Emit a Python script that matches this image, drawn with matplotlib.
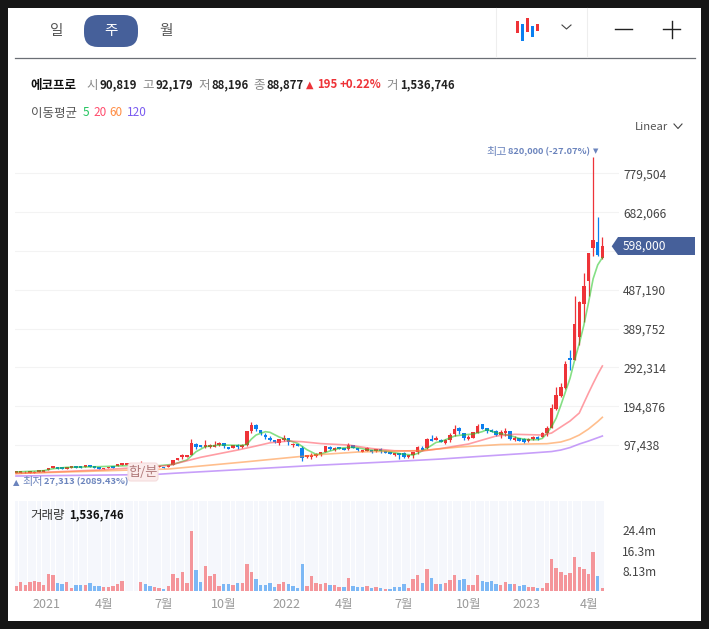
import matplotlib
matplotlib.use('Agg')
import matplotlib.pyplot as plt
from matplotlib.patches import Rectangle, FancyBboxPatch, Polygon
import numpy as np

plt.rcParams['font.family'] = ['Noto Sans CJK KR', 'DejaVu Sans']

#%%
# weekly candles, thousand won
opens = [28, 28, 28.5, 28, 28, 30.4, 30.4, 33.7, 38.8, 42.1,
         41.3, 37.9, 40.4, 43.8, 43.8, 43, 46.3, 43.8, 41.3, 37,
         39, 43.8, 44.6, 47.2, 48, 49, 49, 49, 50, 51,
         47, 41.3, 43, 43, 46.3, 59.7, 66.4, 67.2, 72.3, 100.8,
         97.4, 92.4, 92.4, 93.2, 97.4, 101.6, 93.3, 90.7, 97.4, 92.4,
         97.4, 132.6, 147.7, 135.1, 122.6, 115.9, 110, 102.5, 109.2, 114.2,
         96.6, 100.8, 90.7, 67.3, 68.1, 70.7, 74, 79.9, 92.4, 84.9,
         92.4, 90.7, 87.4, 97.4, 89.9, 79.9, 83.2, 84.9, 82.4, 87.4,
         82.4, 79.9, 72.3, 77.3, 77.3, 67.3, 72.3, 79.9, 90.7, 90.7,
         113.4, 110, 110.8, 102.5, 109.2, 125.1, 141, 127.6, 112.5, 115,
         127.6, 150.2, 140.1, 135.1, 133.4, 121.7, 127.6, 132.6, 110, 114.2,
         112.5, 107.5, 111.7, 117.5, 117.5, 127.6, 140, 187, 221, 240,
         315, 311, 370, 452, 509, 592, 607, 566]
highs = [31, 31, 31, 31, 31, 33.7, 33.7, 38.8, 43.8, 43,
         41.3, 41.3, 43.8, 43.8, 43.8, 46.3, 46.3, 43.8, 41.3, 38.8,
         43, 43.8, 48.8, 51.3, 51.3, 52, 52, 58, 52, 51,
         49, 44.6, 43, 46.3, 59.7, 65.6, 73.9, 72.3, 112.5, 102.5,
         97.4, 110.8, 100.8, 107.5, 104, 101.6, 93.3, 96.6, 99.9, 99.1,
         132.6, 154.4, 149.4, 135.1, 126.7, 119.2, 110, 112.5, 122.6, 115.9,
         102.5, 100.8, 94.9, 71.5, 76.5, 77.3, 79.9, 94.9, 94.9, 92.4,
         92.4, 90.7, 103.3, 97.4, 89.9, 84.9, 92.4, 84.9, 87.4, 89.1,
         82.4, 79.9, 77.3, 77.3, 80.7, 72.3, 79.9, 94.9, 94.1, 115.9,
         122.9, 120, 113.4, 112.5, 126.7, 148.5, 143.5, 127.6, 121.7, 129.3,
         151, 150.2, 140.1, 137.6, 136, 134.3, 139.3, 132.6, 119.2, 114.2,
         115.9, 115, 120, 120.9, 129.3, 144.3, 200, 242, 252, 309,
         336, 472, 458, 530, 579, 820, 670, 620]
lows = [27.3, 28, 28, 28, 28, 30, 30, 33.7, 38.8, 37.5,
        37.9, 37.9, 40.4, 40.4, 40.4, 43, 42.1, 40.4, 37.9, 37,
        39, 40.4, 44.6, 47.2, 48, 49, 49, 47, 48, 48,
        45, 41.3, 40.4, 43, 46.3, 59.7, 63, 67.2, 72.3, 86.6,
        92.4, 89, 89, 91.6, 95.8, 90.7, 88.2, 90.7, 87.4, 89,
        94.1, 126.7, 133.4, 122.6, 112.5, 107.5, 102.5, 97.4, 107.5, 97.4,
        93.3, 95.8, 58.1, 63.9, 61.4, 68.1, 70.7, 79.9, 84, 82.4,
        87.4, 85.7, 85.7, 89.9, 82.4, 79.9, 83.2, 77.3, 79, 77.3,
        77.3, 75.7, 69.8, 62.3, 64.8, 63.9, 65.6, 75.7, 84.9, 88.2,
        107.5, 110, 105, 99.9, 105.8, 119.2, 125.9, 109.2, 110, 114.2,
        127.6, 137.6, 128.4, 130.9, 120, 115, 120.9, 110.8, 107.5, 108.3,
        102.5, 105.8, 109.2, 109.2, 117.5, 119.2, 140, 185, 218, 237,
        285, 311, 348, 406, 472, 572, 573, 564]
closes = [31, 31, 30.5, 31, 30.5, 33.7, 33.7, 38.8, 43.8, 37.9,
          37.9, 41.3, 43.8, 40.4, 40.4, 46.3, 42.1, 40.4, 37.9, 38.8,
          43, 40.4, 48.8, 51.3, 51.3, 52, 52, 52, 51, 48,
          48, 44.6, 40.4, 46.3, 59.7, 65.6, 71.4, 72.3, 102.5, 92.4,
          92.4, 96.6, 96.6, 96.6, 102.5, 95.8, 88.2, 96.6, 91.6, 96.6,
          132.6, 147.7, 137.6, 126.7, 117.5, 110, 105, 112.5, 114.2, 104.1,
          100.8, 95.8, 65.6, 71.5, 72.3, 74.8, 79.9, 94.9, 87.4, 89.9,
          87.4, 85.7, 97.4, 89.9, 84.9, 84.9, 89.1, 79.9, 87.4, 82.4,
          77.3, 75.7, 77.3, 72.3, 68.1, 72.3, 79.9, 92.4, 84.9, 112.5,
          107.5, 115, 105, 110, 122.6, 137.6, 132.6, 114.2, 118.4, 129.3,
          145.2, 137.6, 133.4, 130.9, 122.6, 129.3, 132.6, 112.5, 115.9, 108.3,
          105.8, 113.4, 117.5, 111.7, 127.6, 141, 190, 223, 243, 301,
          312, 401, 457, 498, 579, 612, 575, 598]

# volume in millions, r = up bar, b = down bar
volumes = [1.9, 3.5, 2.3, 3.5, 3.9, 3.5, 2.3, 6.7, 6.3, 3.1,
           2.7, 3.5, 1.1, 2.3, 2.3, 2.3, 3.1, 1.9, 1.9, 1.5,
           1.5, 1.9, 2.7, 3.9, 0, 0, 0, 3.5, 2.7, 1.9,
           1.5, 1.1, 0.7, 1.9, 6.7, 5.1, 7.5, 3.1, 24.2, 8.3,
           3.5, 9.9, 5.9, 6.7, 1.9, 2.7, 2.7, 2.3, 3.1, 3.1,
           10.8, 7.5, 4.7, 2.3, 2.3, 3.1, 1.5, 2.7, 3.5, 2.7,
           1.9, 1.1, 10.8, 1.9, 5.9, 3.1, 2.7, 3.1, 2.3, 2.3,
           1.5, 1.5, 5.1, 1.9, 1.5, 1.5, 1.9, 1.1, 1.5, 1.1,
           0.7, 0.7, 1.5, 1.5, 2.7, 1.1, 4.7, 6.3, 3.1, 8.7,
           5.1, 2.7, 2.7, 3.1, 4.3, 6.3, 4.3, 4.7, 2.3, 2.3,
           6.3, 3.9, 3.5, 3.9, 2.7, 2.3, 3.5, 2.7, 2.7, 1.9,
           2.3, 1.5, 1.5, 1.1, 1.1, 3.1, 12.8, 9.1, 7.5, 6.3,
           7.1, 13.6, 9.5, 8.7, 6.7, 15.6, 5.9, 1.1]
vol_dir = ('rrrrrrrrrb' 'brrbbrbbbr' 'rrrrrrrrbb' 'rrbrrrrrrb' 'brrrrbbrbr'
           'rrbbbbbrrb' 'bbbrrrrrbr' 'rbrbbbrbrb' 'rbbbbrrrbr' 'brbrrrbbrr'
           'rbbbbrrbrb' 'brrbrrrrrr' 'rrrrrrbr')

# moving averages, week index and value in thousand won
ma5_weeks = [0, 6, 8, 11, 18, 26, 31, 34, 37, 39, 41, 44, 49, 50, 51, 52, 54, 55, 57, 59,
             61, 63, 65, 66, 68, 70, 72, 74, 76, 78, 80, 82, 84, 86, 87, 89, 91, 92, 95, 97,
             99, 101, 102, 104, 107, 109, 111, 113, 114, 115, 116, 117, 118, 119, 120, 121,
             122, 123, 124, 125, 126, 127]
ma5_vals = [29.6, 32.9, 37.9, 41.3, 43, 46.3, 45.5, 48.8, 59.7, 80.6, 93.2, 97.4, 96.5, 99, 112.5, 122.6, 130.9, 129.3, 117.5, 109,
            101.6, 85.7, 74, 74.8, 82.4, 89, 91.6, 90.7, 85.7, 84, 82.4, 78.2, 74, 72.3, 76.5, 89, 104, 105.8, 120, 123,
            125, 131, 136, 128, 121, 114, 110.8, 110.8, 114, 126.7, 143.5, 165, 197, 231, 265, 311,
            352, 399, 455, 515, 550, 568]
ma20_weeks = [0, 18, 33, 40, 48, 52, 55, 59, 62, 66, 72, 77, 82, 88, 92, 98, 104, 108, 114, 116, 118, 120, 122, 123, 124, 125, 126, 127]
ma20_vals = [25.8, 34.6, 45.9, 66.5, 84.8, 94.9, 103, 107.4, 105.7, 101, 97.4, 88.6, 83, 82.3, 88.6, 99.9, 120, 124.3, 122.5, 127.5, 142.6, 157.7, 177.8, 203, 228, 252, 275, 296]
ma60_weeks = [0, 25, 33, 50, 66, 74, 88, 96, 105, 115, 118, 120, 122, 124, 126, 127]
ma60_vals = [25.8, 34.6, 37.1, 55.4, 73.5, 79.8, 83.6, 92.4, 98.7, 100.7, 105, 112, 122.5, 137.6, 156.4, 167]
ma120_weeks = [0, 30, 34, 50, 65, 80, 92, 100, 110, 116, 118, 120, 122, 124, 127]
ma120_vals = [19.5, 23.3, 26.3, 36.6, 46.4, 54.7, 62.2, 68.5, 76, 81, 84.8, 91, 99.9, 107.4, 120]

price_ticks = [97438, 194876, 292314, 389752, 487190, 584628, 682066, 779504]
price_labels = ['97,438', '194,876', '292,314', '389,752', '487,190', '', '682,066', '779,504']
vol_ticks = [8.13, 16.3, 24.4]
vol_labels = ['8.13m', '16.3m', '24.4m']
month_weeks = [6.5, 19, 32, 45, 58.5, 71, 84, 98, 110.5, 124]
month_labels = ['2021', '4월', '7월', '10월', '2022', '4월', '7월', '10월', '2023', '4월']

RED = '#ee3338'
BLUE = '#0b7ff0'
W, H = 709, 629
STEP = 4.617


def px_axes(left, top, right, bottom, **kw):
    return fig.add_axes([left / W, 1 - bottom / H, (right - left) / W, (bottom - top) / H], **kw)


fig = plt.figure(figsize=(7.09, 6.29), dpi=100, facecolor='#161616')

#%%
# panel and header, drawn in pixel coords
bg = px_axes(0, 0, W, H, zorder=0)
bg.set_xlim(0, W)
bg.set_ylim(H, 0)
bg.axis('off')
bg.add_patch(Rectangle((8, 8), 693, 613, fc='white', ec='none'))
bg.plot([15, 694.5], [57.5, 57.5], color='#6b6f75', lw=0.9)
bg.plot([495.5, 495.5], [8, 57], color='#eeeeee', lw=0.8)
bg.plot([587, 587], [8, 57], color='#eeeeee', lw=0.8)
bg.add_patch(FancyBboxPatch((84 + 14, 15 + 14), 54 - 28, 32 - 28, boxstyle='round,pad=14',
                            fc='#46609a', ec='none'))
bg.text(57, 31, '일', color='#555555', fontsize=10.5, ha='center', va='center')
bg.text(111, 31, '주', color='white', fontsize=10.5, ha='center', va='center')
bg.text(165.5, 31, '월', color='#555555', fontsize=10.5, ha='center', va='center')

# chart type icon
for x, y0, y1, col in [(517, 21, 33, RED), (522, 24, 41, BLUE), (527, 18, 32, RED),
                       (532, 26, 37, BLUE), (537, 24, 31, RED)]:
    bg.add_patch(Rectangle((x - 1.5, y0), 3, y1 - y0, fc=col, ec='none'))
bg.plot([562, 566.5, 571], [25, 29, 25], color='#444444', lw=0.8)
bg.plot([615, 632], [29, 29], color='#222222', lw=1)
bg.plot([663, 680], [29, 29], color='#222222', lw=1)
bg.plot([671.5, 671.5], [21, 38], color='#222222', lw=1)

row1 = 85
bg.text(30.7, row1, '에코프로', color='#111111', fontsize=9, fontweight='bold', va='center')
for x, s in [(86, '시'), (142.5, '고'), (198, '저'), (253.6, '종'), (386.6, '거')]:
    bg.text(x, row1, s, color='#888888', fontsize=9, va='center')
for x, s in [(100, '90,819'), (156, '92,179'), (211.6, '88,196'), (266.8, '88,877'), (400.6, '1,536,746')]:
    bg.text(x, row1, s, color='#222222', fontsize=8.2, va='center', fontweight='bold')
bg.text(306, row1, '▲', color='#ee3338', fontsize=7, va='center', family=['DejaVu Sans'])
bg.text(317.4, row1, '195', color='#ee3338', fontsize=8.2, va='center', fontweight='bold')
bg.text(340, row1, '+0.22%', color='#ee3338', fontsize=8.2, va='center', fontweight='bold')

row2 = 113
bg.text(30.7, row2, '이동평균', color='#555555', fontsize=9, va='center')
for x, s, col in [(83, '5', '#22c55e'), (93, '20', '#ff4d6d'), (109, '60', '#ff8c42'), (127, '120', '#7a5cf0')]:
    bg.text(x, row2, s, color=col, fontsize=8.5, va='center')
bg.text(635, 127, 'Linear', color='#555555', fontsize=8.2, va='center')
bg.plot([674, 678, 682], [124, 128.5, 124], color='#444444', lw=0.8)

#%%
# price pane, y scale 2512 won per pixel with 97,438 at y=445
weeks = np.arange(len(closes))
o = np.array(opens) * 1000
h = np.array(highs) * 1000
l = np.array(lows) * 1000
c = np.array(closes) * 1000
colors = [RED if a >= b else BLUE for a, b in zip(c, o)]

ax = px_axes(15, 130, 619, 495, zorder=2)
ax.patch.set_alpha(0)
ax.set_xlim((15 - 16) / STEP, (619 - 16) / STEP)
ax.set_ylim(97438 - 50 * 2512.2, 97438 + 315 * 2512.2)
for s in ax.spines.values():
    s.set_visible(False)
ax.set_yticks(price_ticks)
ax.set_yticklabels(price_labels)
ax.yaxis.tick_right()
ax.tick_params(axis='y', length=0, pad=3, labelsize=8.6, labelcolor='#444444')
ax.set_xticks([])
ax.grid(axis='y', color='#f3f3f3', lw=0.8)
ax.set_axisbelow(True)

ax.vlines(weeks, l, h, colors=colors, lw=0.9, zorder=3)
ax.bar(weeks, np.maximum(np.abs(c - o), 1500), bottom=np.minimum(o, c), width=0.76, color=colors, zorder=3)

ax.plot(ma5_weeks, np.array(ma5_vals) * 1000, color='#22c522', lw=1.2, alpha=0.55, zorder=4)
ax.plot(ma20_weeks, np.array(ma20_vals) * 1000, color='#ff4d5a', lw=1.2, alpha=0.55, zorder=4)
ax.plot(ma60_weeks, np.array(ma60_vals) * 1000, color='#ff8a30', lw=1.2, alpha=0.55, zorder=4)
ax.plot(ma120_weeks, np.array(ma120_vals) * 1000, color='#9a50f5', lw=1.2, alpha=0.55, zorder=4)

#%%
# volume pane, 8.13m = 20.17 px
vax = px_axes(15, 501, 604, 591, zorder=2)
vax.set_xlim((15 - 16) / STEP, (604 - 16) / STEP)
vax.set_ylim(0, 90 * 8.13 / 20.17)
for s in vax.spines.values():
    s.set_visible(False)
vax.bar(weeks, [vax.get_ylim()[1]] * len(weeks), width=0.88, color='#f5f7fc', zorder=1)
vax.bar(weeks, volumes, width=0.74, zorder=2,
        color=['#f4959a' if d == 'r' else '#7db8f5' for d in vol_dir])
vax.set_xticks(month_weeks)
vax.set_xticklabels(month_labels)
vax.tick_params(axis='x', length=0, pad=5, labelsize=9, labelcolor='#999999')
vax.set_yticks(vol_ticks)
vax.set_yticklabels(vol_labels)
vax.yaxis.tick_right()
vax.tick_params(axis='y', length=0, pad=13, labelsize=8.6, labelcolor='#444444')

#%%
# labels sitting on top of the panes
top = px_axes(0, 0, W, H, zorder=5)
top.set_xlim(0, W)
top.set_ylim(H, 0)
top.axis('off')
LABEL = '#6b84bd'
top.text(486.7, 152, '최고', color=LABEL, fontsize=8, va='center')
top.text(508, 152, '820,000 (-27.07%)', color=LABEL, fontsize=6.7, va='center', fontweight='bold')
top.text(595.5, 151, '▼', color=LABEL, fontsize=5, va='center', ha='center', family=['DejaVu Sans'])
top.text(16.7, 482.3, '▲', color=LABEL, fontsize=6, va='center', ha='center', family=['DejaVu Sans'])
top.text(22, 482, '최저', color=LABEL, fontsize=8, va='center')
top.text(44, 482, '27,313 (2089.43%)', color=LABEL, fontsize=6.7, va='center', fontweight='bold')
top.add_patch(FancyBboxPatch((131, 466), 24, 12, boxstyle='round,pad=3', fc='#fbecec', ec='#f5dcdc', lw=0.8))
top.text(143, 472, '합/분', color='#b07a7a', fontsize=9.5, ha='center', va='center')
top.add_patch(Polygon([(611.7, 246.3), (618, 237), (695, 237), (695, 255), (618, 255)],
                      closed=True, fc='#46609a', ec='none'))
top.text(623, 246.3, '598,000', color='white', fontsize=8.6, va='center')
top.text(30.7, 515, '거래량', color='#333333', fontsize=9, va='center')
top.text(69, 515, '1,536,746', color='#111111', fontsize=8.2, va='center', fontweight='bold')

fig.savefig('out.png', dpi=100, facecolor=fig.get_facecolor())
